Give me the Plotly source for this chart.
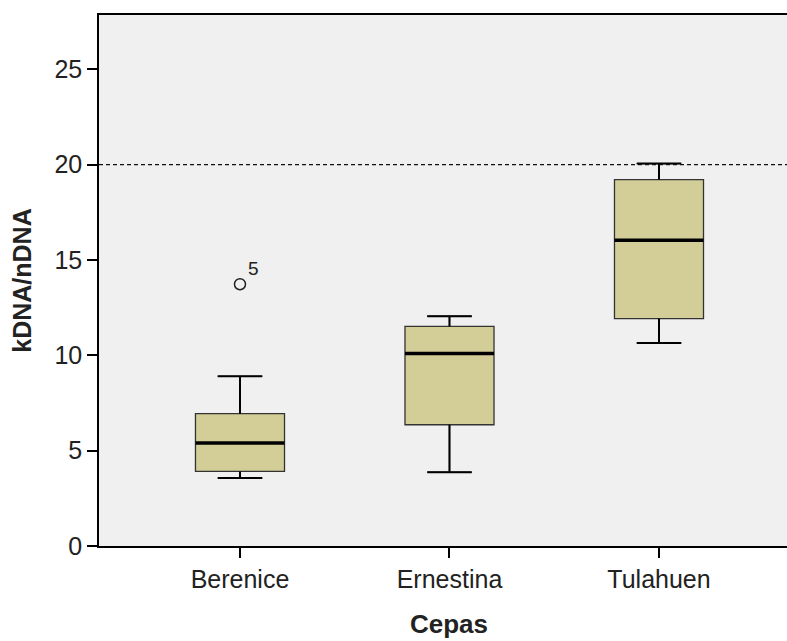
import plotly.graph_objects as go

categories = ["Berenice", "Ernestina", "Tulahuen"]
lower_whisker = [3.56, 3.87, 10.65]
q1 = [3.91, 6.36, 11.93]
median = [5.40, 10.09, 16.04]
q3 = [6.94, 11.52, 19.22]
upper_whisker = [8.90, 12.05, 20.06]
outlier_cat = [0]
outlier_val = [13.73]
outlier_label = ["5"]
reference_value = 20
y_ticks = [0, 5, 10, 15, 20, 25]

xpos = list(range(len(categories)))
box_w = 0.425
cap_w = box_w / 2

fig = go.Figure()
fig.add_trace(go.Box(
    x=xpos, q1=q1, median=median, q3=q3,
    lowerfence=lower_whisker, upperfence=upper_whisker,
    width=box_w, whiskerwidth=0.5,
    fillcolor="rgb(211,206,151)",
    line=dict(color="#333333", width=1.3),
    boxpoints=False, hoverinfo="skip", showlegend=False,
))

# whiskers (thicker) and medians (thick)
for i, x in enumerate(xpos):
    for (ya, yb) in [(lower_whisker[i], q1[i]), (q3[i], upper_whisker[i])]:
        fig.add_trace(go.Scatter(x=[x, x], y=[ya, yb], mode="lines",
                                 line=dict(color="black", width=2), showlegend=False, hoverinfo="skip"))
    for yv in [lower_whisker[i], upper_whisker[i]]:
        fig.add_trace(go.Scatter(x=[x - cap_w / 2, x + cap_w / 2], y=[yv, yv], mode="lines",
                                 line=dict(color="black", width=2), showlegend=False, hoverinfo="skip"))
    fig.add_trace(go.Scatter(x=[x - box_w / 2, x + box_w / 2], y=[median[i], median[i]], mode="lines",
                             line=dict(color="black", width=3.5), showlegend=False, hoverinfo="skip"))

fig.add_trace(go.Scatter(x=outlier_cat, y=outlier_val, mode="markers",
                         marker=dict(symbol="circle-open", size=11, color="#222",
                                     line=dict(width=1.5, color="#222")),
                         showlegend=False, hoverinfo="skip"))
for xc, yv, lab in zip(outlier_cat, outlier_val, outlier_label):
    fig.add_annotation(x=xc, y=yv, text=lab, showarrow=False, xshift=14, yshift=16,
                       font=dict(family="Liberation Sans, Arial", size=19, color="#222"))

fig.add_shape(type="line", xref="paper", x0=0, x1=1, yref="y", y0=reference_value, y1=reference_value,
              line=dict(color="#111", width=1.3, dash="4px,3px"))

# x-axis title placed under the middle category
fig.add_annotation(x=1, xref="x", y=-0.147, yref="paper", yanchor="middle",
                   text="<b>Cepas</b>", showarrow=False,
                   font=dict(family="Liberation Sans, Arial", size=26, color="#222"))

fig.update_layout(
    width=787, height=641,
    margin=dict(l=99, r=0, t=15, b=95),
    paper_bgcolor="white", plot_bgcolor="#F0F0F0",
    font=dict(family="Liberation Sans, Arial", color="#222"),
    xaxis=dict(range=[-0.673, 2.611], tickvals=xpos, ticktext=categories,
               showgrid=False, zeroline=False, showline=True, mirror=True,
               linecolor="black", linewidth=1.5, ticks="outside", ticklen=10,
               tickcolor="black", tickwidth=1.5, tickfont=dict(size=25)),
    yaxis=dict(range=[0, 27.85], tickvals=y_ticks,
               showgrid=False, zeroline=False, showline=True,
               linecolor="black", linewidth=1.5, ticks="outside", ticklen=10,
               tickcolor="black", tickwidth=1.5, tickfont=dict(size=25),
               title=dict(text="<b>kDNA/nDNA</b>", font=dict(size=25), standoff=16)),
)

fig.write_html("out.html")
